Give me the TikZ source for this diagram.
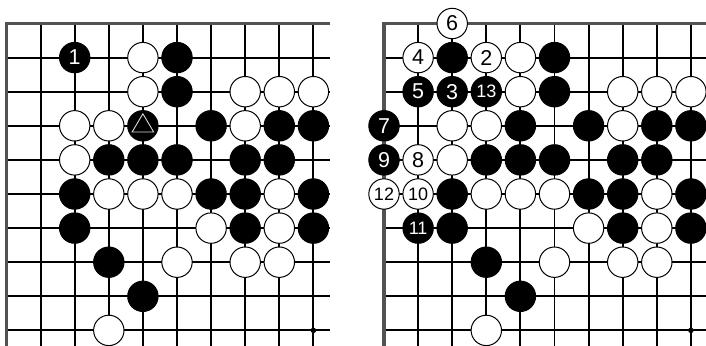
\documentclass[tikz,border=0pt]{standalone}
\usepackage{fontspec}
\setmainfont{Liberation Sans}
\newcommand\digA{\fontsize{21.5}{21.5}\selectfont}
\newcommand\digB{\fontsize{18}{18}\selectfont}
\tikzset{
  gridline/.style={line width=1.9pt, black},
  edgeline/.style={line width=3.3pt, black!68},
  stonebase/.style={circle, inner sep=0pt, minimum size=30.4pt, line width=1pt, draw=black},
  wstone/.style={stonebase, fill=white, text=black},
  bstone/.style={stonebase, fill=black, text=white},
  hoshi/.style={circle, fill=black, inner sep=0pt, minimum size=5.5pt},
}
\begin{document}
\begin{tikzpicture}[x=1pt,y=-1pt]
\useasboundingbox (0,0) rectangle (706,345);
\fill[white] (0,0) rectangle (706,345);

% ---------------- left board ----------------
\begin{scope}[shift={(6.5pt,-23.5pt)}, x=34.1pt, y=-34.1pt]
  \foreach \i in {1,...,9} \draw[gridline] (\i,0) -- (\i,9.7);
  \foreach \j in {1,...,9} \draw[gridline] (0,\j) -- (9.5,\j);
  \draw[edgeline] (9.5,0) -- (0,0) -- (0,9.7);
  \node[hoshi] (L-hoshi) at (9,9) {};
  \foreach \c/\r in {5/1,5/2,6/3,8/3,9/3,3/4,4/4,5/4,7/4,8/4,2/5,6/5,7/5,9/5,2/6,7/6,9/6,3/7,4/8}
    \node[bstone] (L-\c-\r) at (\c,\r) {};
  \foreach \c/\r in {4/1,4/2,7/2,8/2,9/2,2/3,3/3,7/3,2/4,3/5,4/5,5/5,8/5,6/6,8/6,5/7,7/7,8/7,3/9}
    \node[wstone] (L-\c-\r) at (\c,\r) {};
  \node[bstone, font=\digA] (L-2-1) at (2,1) {1};
  \node[bstone] (L-4-3) at (4,3) {};
  \draw[white!85!black, line width=0.9pt]
    ([yshift=12pt]L-4-3.center) -- ([xshift=-10.8pt,yshift=-6.2pt]L-4-3.center)
    -- ([xshift=10.8pt,yshift=-6.2pt]L-4-3.center) -- cycle;
\end{scope}

% ---------------- right board ----------------
\begin{scope}[shift={(384pt,-23.5pt)}, x=34.1pt, y=-34.1pt]
  \foreach \i in {1,...,9} \draw[gridline] (\i,0) -- (\i,9.7);
  \foreach \j in {1,...,9} \draw[gridline] (0,\j) -- (9.7,\j);
  \draw[edgeline] (9.7,0) -- (0,0) -- (0,9.7);
  \node[hoshi] (R-hoshi) at (9,9) {};
  \foreach \c/\r in {2/1,5/1,5/2,4/3,6/3,8/3,9/3,3/4,4/4,5/4,7/4,8/4,2/5,6/5,7/5,9/5,2/6,7/6,9/6,3/7,4/8}
    \node[bstone] (R-\c-\r) at (\c,\r) {};
  \foreach \c/\r in {4/1,4/2,7/2,8/2,9/2,2/3,3/3,7/3,2/4,3/5,4/5,5/5,8/5,6/6,8/6,5/7,7/7,8/7,3/9}
    \node[wstone] (R-\c-\r) at (\c,\r) {};
  % numbered white stones
  \node[wstone, font=\digA] (R-2-0) at (2,0) {6};
  \node[wstone, font=\digA] (R-1-1) at (1,1) {4};
  \node[wstone, font=\digA] (R-3-1) at (3,1) {2};
  \node[wstone, font=\digA] (R-1-4) at (1,4) {8};
  \node[wstone, font=\digB] (R-0-5) at (0,5) {12};
  \node[wstone, font=\digB] (R-1-5) at (1,5) {10};
  % numbered black stones
  \node[bstone, font=\digA] (R-1-2) at (1,2) {5};
  \node[bstone, font=\digA] (R-2-2) at (2,2) {3};
  \node[bstone, font=\digB] (R-3-2) at (3,2) {13};
  \node[bstone, font=\digA] (R-0-3) at (0,3) {7};
  \node[bstone, font=\digA] (R-0-4) at (0,4) {9};
  \node[bstone, font=\digB] (R-1-6) at (1,6) {11};
\end{scope}
\end{tikzpicture}
\end{document}
